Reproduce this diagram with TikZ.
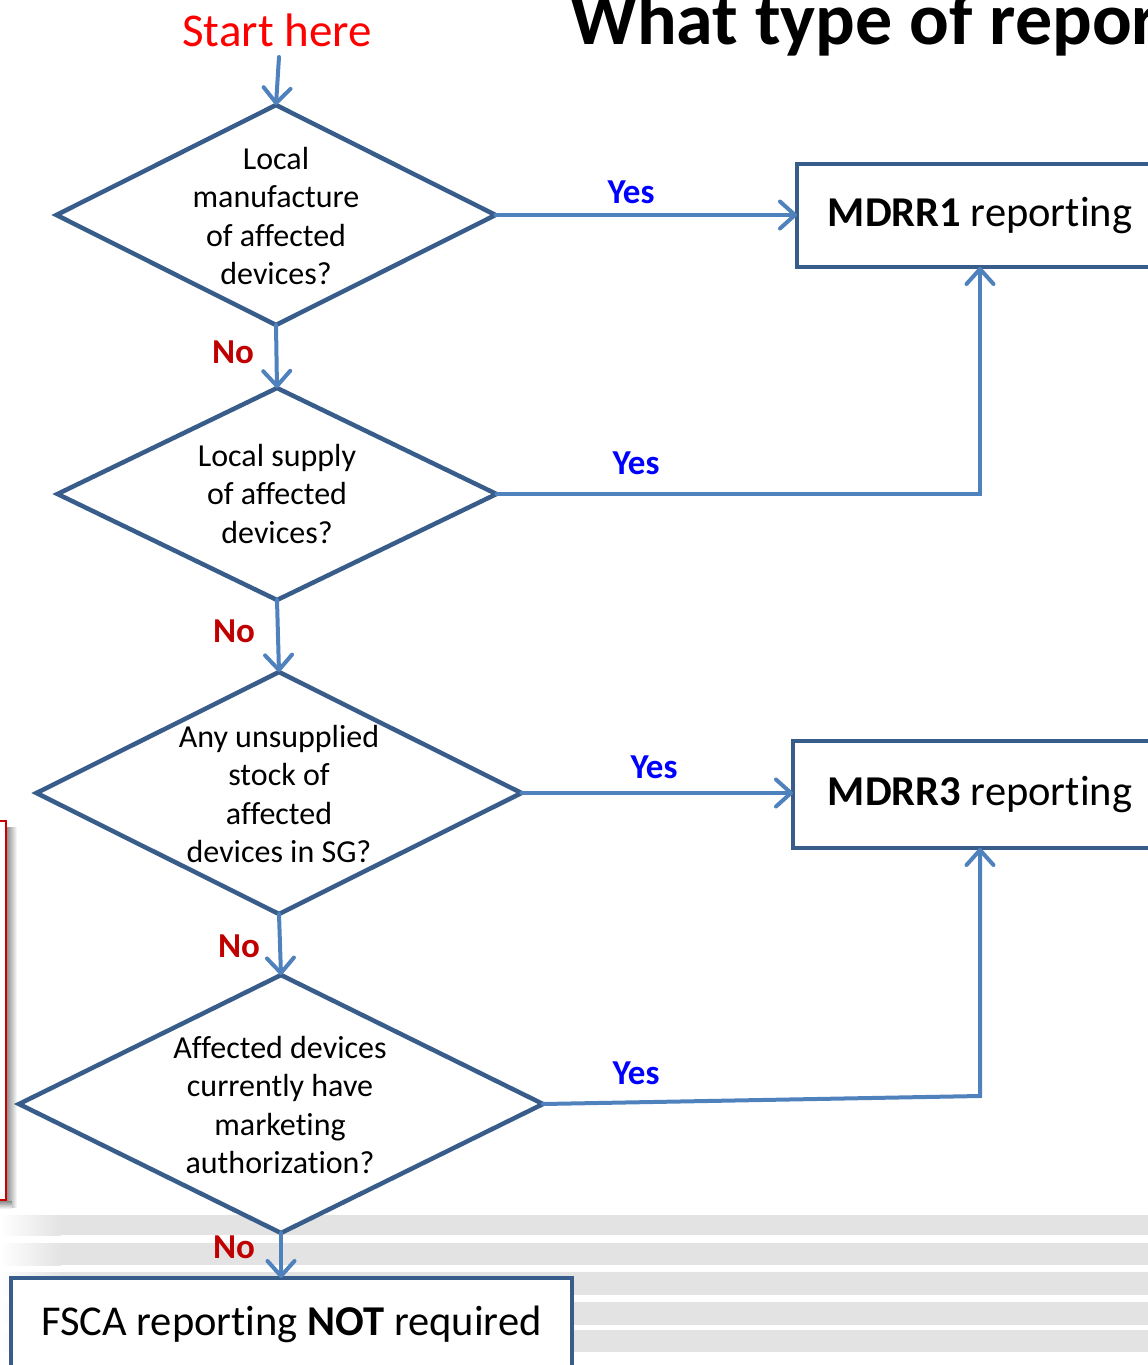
\documentclass[tikz,border=0pt]{standalone}
\usepackage{fontspec}
\setmainfont{Carlito}[Ligatures=NoCommon]
\usetikzlibrary{shapes.geometric,arrows.meta}
\definecolor{edgeblue}{HTML}{385D8A}
\definecolor{arrowblue}{HTML}{4F81BD}
\definecolor{nored}{HTML}{C00000}
\definecolor{startred}{HTML}{FF0000}
\definecolor{framered}{HTML}{CC0000}
\definecolor{stripe}{HTML}{E3E3E3}
\begin{document}
\begin{tikzpicture}[x=1pt,y=-1pt,
  dec/.style={diamond, draw=edgeblue, line width=4.5pt, fill=white, inner sep=0pt, outer sep=0pt},
  qtext/.style={align=center, font=\fontsize{32}{38.3}\selectfont, inner sep=0pt},
  outbox/.style={rectangle, draw=edgeblue, line width=4.5pt, fill=white, inner sep=0pt, outer sep=0pt,
    font=\fontsize{42.5}{50}\selectfont},
  flow/.style={draw=arrowblue, line width=4pt, line cap=round,
    -{Straight Barb[length=15pt,width=27pt,line cap=round,line join=round]}},
  yeslbl/.style={text=blue, font=\bfseries\fontsize{35}{40}\selectfont, inner sep=0pt},
  nolbl/.style={text=nored, font=\bfseries\fontsize{35}{40}\selectfont, inner sep=0pt},
]
\useasboundingbox (0,0) rectangle (1148,1365);

% grey bands along the bottom, fading out towards the left edge
\foreach \a/\b in {1215/1235,1243/1265,1272/1295,1302/1325,1330/1352}{
  \fill[stripe] (60,\a) rectangle (1148,\b);
  \shade[left color=white, right color=stripe] (0,\a) rectangle (60.5,\b);
}

% red frame at the left edge with its soft shadow
\shade[left color=black!45, right color=white] (6.5,827) rectangle (17,1207);
\shade[top color=black!45, bottom color=white] (-20,1201) rectangle (12,1209);
\draw[framered, line width=2pt] (-30,821) rectangle (5.5,1200);

% title
\node[anchor=base west, inner sep=0pt, font=\bfseries\fontsize{74}{76}\selectfont] (title)
  at (570,44) {What type of report};

% start label
\node[anchor=base, inner sep=0pt, text=startred, font=\fontsize{47}{50}\selectfont] (st)
  at (277,46) {Start here};
\coordinate (s0) at (279,57);

% decisions
\node[dec, minimum width=439pt, minimum height=220pt] (d1) at (276,215) {};
\node[dec, minimum width=439pt, minimum height=212pt] (d2) at (277,494) {};
\node[dec, minimum width=485pt, minimum height=242pt] (d3) at (279,793) {};
\node[dec, minimum width=524pt, minimum height=258pt] (d4) at (281,1104) {};

\node[qtext] (t1) at (276,216) {Local\\manufacture\\of affected\\devices?};
\node[qtext] (t2) at (277,494) {Local supply\\of affected\\devices?};
\node[qtext] (t3) at (279,794) {Any unsupplied\\stock of\\affected\\devices in SG?};
\node[qtext] (t4) at (280,1105) {Affected devices\\currently have\\marketing\\authorization?};

% outcomes
\node[outbox, minimum width=366pt, minimum height=103pt] (m1) at (980,215.5) {\textbf{MDRR1} reporting};
\node[outbox, minimum width=374pt, minimum height=107pt] (m3) at (980,794.5) {\textbf{MDRR3} reporting};
\node[outbox, minimum width=561pt, minimum height=92pt] (fsca) at (291.5,1324) {FSCA reporting \textbf{NOT} required};

\coordinate (c4) at (980,1096);

% connectors
\draw[flow] (s0) -- (d1.north);
\draw[flow] (d1.east) -- (d1.east -| m1.west);
\draw[flow] (d1.south) -- (d2.north);
\draw[flow] (d2.east) -| (m1.south);
\draw[flow] (d2.south) -- (d3.north);
\draw[flow] (d3.east) -- (d3.east -| m3.west);
\draw[flow] (d3.south) -- (d4.north);
\draw[flow] (d4.east) -- (c4) -- (m3.south);
\draw[flow] (d4.south) -- (d4.south |- fsca.north);

% branch labels
\node[yeslbl] (y1) at (631,192) {Yes};
\node[yeslbl] (y2) at (636,463) {Yes};
\node[yeslbl] (y3) at (654,767) {Yes};
\node[yeslbl] (y4) at (636,1073) {Yes};
\node[nolbl] (n1) at (233,352) {No};
\node[nolbl] (n2) at (234,631) {No};
\node[nolbl] (n3) at (239,946) {No};
\node[nolbl] (n4) at (234,1247) {No};
\end{tikzpicture}
\end{document}
